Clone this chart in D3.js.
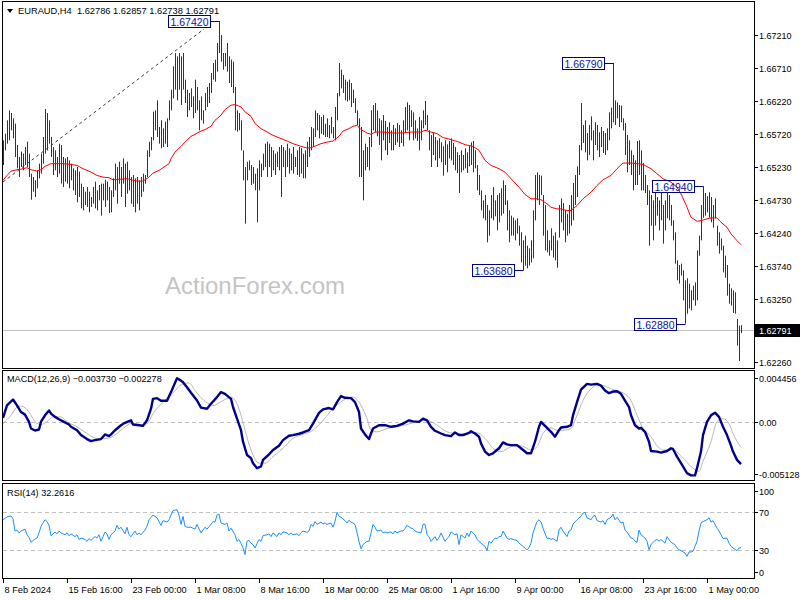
<!DOCTYPE html>
<html><head><meta charset="utf-8">
<script src="https://cdn.jsdelivr.net/npm/d3@7"></script>
<style>body{margin:0;background:#fff}svg{display:block}</style>
</head><body><svg id="c" width="800" height="600"></svg>
<script>
const symbol = "EURAUD,H4";
const lastOHLC = [1.62786, 1.62857, 1.62738, 1.62791];
const highs = [
1.6563,1.6573,1.6593,1.6608,1.6604,1.6596,1.6588,1.6556,1.6538,1.6546,
1.6543,1.6553,1.6561,1.6543,1.6513,1.6508,1.6503,1.6518,1.6528,1.6543,
1.6568,1.6610,1.6604,1.6593,1.6568,1.6553,1.6548,1.6538,1.6558,1.6556,
1.6538,1.6536,1.6538,1.6533,1.6528,1.6521,1.6518,1.6523,1.6516,1.6498,
1.6493,1.6486,1.6493,1.6486,1.6478,1.6493,1.6501,1.6488,1.6496,1.6498,
1.6498,1.6504,1.6501,1.6493,1.6488,1.6506,1.6528,1.6523,1.6531,1.6523,
1.6536,1.6528,1.6531,1.6518,1.6508,1.6511,1.6506,1.6508,1.6503,1.6508,
1.6513,1.6511,1.6548,1.6561,1.6568,1.6606,1.6608,1.6623,1.6583,1.6593,
1.6581,1.6591,1.6596,1.6623,1.6639,1.6674,1.6694,1.6689,1.6694,1.6689,
1.6694,1.6654,1.6639,1.6634,1.6641,1.6629,1.6654,1.6643,1.6623,1.6629,
1.6608,1.6634,1.6643,1.6649,1.6664,1.6679,1.6684,1.6709,1.6742,1.6721,
1.6694,1.6694,1.6709,1.6689,1.6684,1.6681,1.6643,1.6608,1.6604,1.6593,
1.6548,1.6523,1.6531,1.6533,1.6526,1.6523,1.6513,1.6521,1.6533,1.6528,
1.6543,1.6558,1.6561,1.6558,1.6553,1.6548,1.6543,1.6546,1.6553,1.6556,
1.6553,1.6548,1.6558,1.6551,1.6543,1.6553,1.6538,1.6548,1.6553,1.6551,
1.6543,1.6548,1.6561,1.6568,1.6583,1.6581,1.6608,1.6604,1.6601,1.6598,
1.6601,1.6588,1.6596,1.6586,1.6598,1.6583,1.6613,1.6634,1.6679,1.6669,
1.6661,1.6654,1.6651,1.6654,1.6649,1.6639,1.6626,1.6608,1.6596,1.6583,
1.6548,1.6558,1.6553,1.6568,1.6608,1.6616,1.6619,1.6608,1.6596,1.6593,
1.6601,1.6592,1.6583,1.6590,1.6578,1.6586,1.6581,1.6589,1.6586,1.6578,
1.6593,1.6613,1.6620,1.6616,1.6608,1.6605,1.6593,1.6581,1.6598,1.6593,
1.6608,1.6622,1.6601,1.6578,1.6571,1.6575,1.6568,1.6563,1.6566,1.6560,
1.6554,1.6563,1.6557,1.6562,1.6566,1.6559,1.6553,1.6545,1.6541,1.6548,
1.6541,1.6551,1.6545,1.6556,1.6560,1.6562,1.6548,1.6526,1.6511,1.6488,
1.6473,1.6481,1.6466,1.6458,1.6481,1.6493,1.6473,1.6481,1.6484,1.6491,
1.6503,1.6496,1.6473,1.6458,1.6450,1.6447,1.6443,1.6446,1.6435,1.6425,
1.6413,1.6420,1.6405,1.6401,1.6413,1.6458,1.6511,1.6515,1.6511,1.6510,
1.6481,1.6466,1.6428,1.6413,1.6431,1.6420,1.6425,1.6413,1.6466,1.6476,
1.6469,1.6458,1.6453,1.6466,1.6481,1.6499,1.6511,1.6524,1.6556,1.6619,
1.6586,1.6593,1.6574,1.6586,1.6599,1.6578,1.6590,1.6586,1.6575,1.6583,
1.6577,1.6574,1.6581,1.6605,1.6612,1.6679,1.6623,1.6620,1.6616,1.6615,
1.6596,1.6589,1.6571,1.6563,1.6548,1.6541,1.6533,1.6562,1.6563,1.6548,
1.6529,1.6511,1.6496,1.6488,1.6481,1.6473,1.6484,1.6478,1.6473,1.6485,
1.6466,1.6473,1.6485,1.6481,1.6466,1.6443,1.6425,1.6383,1.6376,1.6378,
1.6368,1.6353,1.6356,1.6348,1.6338,1.6345,1.6350,1.6398,1.6420,1.6466,
1.6494,1.6484,1.6479,1.6485,1.6478,1.6466,1.6476,1.6435,1.6425,1.6416,
1.6405,1.6390,1.6376,1.6348,1.6341,1.6338,1.6335,1.6295,1.6285,1.62857];
const lows = [
1.6526,1.6548,1.6558,1.6563,1.6578,1.6566,1.6538,1.6521,1.6508,1.6523,
1.6518,1.6526,1.6523,1.6508,1.6474,1.6486,1.6478,1.6491,1.6506,1.6513,
1.6528,1.6543,1.6548,1.6558,1.6538,1.6511,1.6518,1.6508,1.6513,1.6498,
1.6493,1.6501,1.6498,1.6491,1.6503,1.6488,1.6481,1.6470,1.6478,1.6461,
1.6458,1.6466,1.6463,1.6455,1.6463,1.6468,1.6461,1.6458,1.6473,1.6450,
1.6473,1.6463,1.6473,1.6454,1.6455,1.6478,1.6488,1.6468,1.6498,1.6478,
1.6498,1.6463,1.6483,1.6488,1.6468,1.6463,1.6455,1.6468,1.6458,1.6478,
1.6486,1.6498,1.6508,1.6538,1.6548,1.6563,1.6578,1.6568,1.6558,1.6551,
1.6553,1.6558,1.6553,1.6593,1.6608,1.6626,1.6639,1.6623,1.6639,1.6616,
1.6639,1.6619,1.6598,1.6608,1.6613,1.6596,1.6604,1.6608,1.6578,1.6593,
1.6588,1.6608,1.6613,1.6619,1.6634,1.6654,1.6651,1.6666,1.6694,1.6681,
1.6669,1.6674,1.6666,1.6649,1.6643,1.6634,1.6578,1.6576,1.6578,1.6548,
1.6503,1.6438,1.6503,1.6518,1.6496,1.6498,1.6488,1.6440,1.6488,1.6508,
1.6518,1.6523,1.6508,1.6523,1.6508,1.6518,1.6511,1.6523,1.6518,1.6478,
1.6523,1.6508,1.6523,1.6513,1.6518,1.6513,1.6523,1.6511,1.6508,1.6513,
1.6506,1.6506,1.6523,1.6538,1.6548,1.6553,1.6568,1.6578,1.6566,1.6573,
1.6571,1.6568,1.6568,1.6566,1.6573,1.6566,1.6563,1.6593,1.6629,1.6641,
1.6634,1.6623,1.6621,1.6623,1.6613,1.6619,1.6604,1.6586,1.6508,1.6508,
1.6473,1.6518,1.6523,1.6518,1.6553,1.6578,1.6575,1.6569,1.6556,1.6533,
1.6563,1.6548,1.6541,1.6559,1.6548,1.6548,1.6556,1.6560,1.6553,1.6559,
1.6554,1.6574,1.6578,1.6563,1.6583,1.6563,1.6566,1.6562,1.6548,1.6563,
1.6581,1.6586,1.6578,1.6548,1.6523,1.6541,1.6533,1.6523,1.6536,1.6530,
1.6510,1.6526,1.6515,1.6536,1.6533,1.6526,1.6518,1.6514,1.6484,1.6515,
1.6518,1.6521,1.6514,1.6524,1.6526,1.6515,1.6521,1.6488,1.6481,1.6458,
1.6446,1.6443,1.6410,1.6420,1.6446,1.6443,1.6449,1.6428,1.6440,1.6450,
1.6453,1.6466,1.6428,1.6410,1.6420,1.6420,1.6413,1.6423,1.6405,1.6380,
1.6368,1.6375,1.6371,1.6375,1.6380,1.6386,1.6443,1.6473,1.6466,1.6481,
1.6420,1.6398,1.6395,1.6390,1.6398,1.6387,1.6383,1.6372,1.6417,1.6440,
1.6428,1.6410,1.6420,1.6423,1.6435,1.6443,1.6466,1.6478,1.6511,1.6548,
1.6559,1.6545,1.6533,1.6541,1.6563,1.6533,1.6556,1.6548,1.6538,1.6553,
1.6544,1.6541,1.6548,1.6563,1.6581,1.6590,1.6586,1.6596,1.6583,1.6590,
1.6578,1.6541,1.6515,1.6526,1.6511,1.6488,1.6496,1.6496,1.6511,1.6488,
1.6488,1.6484,1.6466,1.6405,1.6435,1.6413,1.6435,1.6450,1.6428,1.6443,
1.6408,1.6428,1.6446,1.6443,1.6435,1.6413,1.6378,1.6353,1.6348,1.6360,
1.6323,1.6288,1.6303,1.6311,1.6308,1.6323,1.6315,1.6323,1.6390,1.6413,
1.6447,1.6450,1.6455,1.6447,1.6440,1.6432,1.6446,1.6405,1.6393,1.6398,
1.6365,1.6357,1.6330,1.6318,1.6315,1.6304,1.6303,1.6255,1.6232,1.62738];

const tickBars = [0,32,64,96,128,160,192,224,256,288,320,352];
const tickLabels = ["8 Feb 2024","15 Feb 16:00","23 Feb 00:00","1 Mar 08:00","8 Mar 16:00","18 Mar 00:00","25 Mar 08:00","1 Apr 16:00","9 Apr 00:00","16 Apr 08:00","23 Apr 16:00","1 May 00:00"];
const priceTicks = [1.67210,1.66710,1.66220,1.65720,1.65230,1.64730,1.64240,1.63740,1.63250,1.62260];

const maBars = [0,2,4,7,9,12,14,17,19,21,24,27,30,34,37,40,44,47,50,53,55,59,62,64,67,70,73,75,78,80,83,84,86,89,91,94,96,99,101,104,106,109,111,114,116,119,121,124,126,129,132,135,139,142,145,149,152,154,157,159,162,165,168,170,173,175,177,179,182,184,186,190,195,200,204,209,211,214,217,220,224,228,231,235,238,241,244,248,251,254,258,261,264,267,269,272,274,277,279,282,284,287,290,294,297,300,304,307,310,314,317,320,324,327,330,334,337,339,342,344,347,349,352,354,357,359,362,364,367,369];
const maValues = [1.65028,1.65103,1.65168,1.65189,1.65198,1.65219,1.65189,1.65168,1.65189,1.65239,1.6528,1.6528,1.6528,1.65269,1.65254,1.65204,1.65153,1.65103,1.65078,1.65069,1.65039,1.65048,1.65054,1.65039,1.65018,1.65018,1.65078,1.65138,1.65179,1.65219,1.6528,1.65355,1.65454,1.6554,1.65604,1.6569,1.6572,1.6577,1.65791,1.65841,1.65931,1.66006,1.66092,1.66157,1.66167,1.66131,1.66056,1.65991,1.65881,1.65806,1.65755,1.65705,1.65656,1.6562,1.6558,1.6554,1.65514,1.6552,1.65555,1.6558,1.65604,1.6562,1.6569,1.6577,1.65806,1.65841,1.65856,1.65791,1.6574,1.6572,1.65755,1.65755,1.6574,1.6574,1.65755,1.65755,1.6578,1.65755,1.65731,1.65671,1.65641,1.65604,1.65565,1.6554,1.6548,1.65329,1.65254,1.65204,1.65153,1.65054,1.64927,1.64818,1.64753,1.64753,1.64738,1.64678,1.64626,1.64602,1.64602,1.64577,1.64577,1.64652,1.64753,1.64852,1.64953,1.65039,1.65103,1.65204,1.65289,1.65289,1.6528,1.65269,1.65204,1.65129,1.65054,1.65003,1.64927,1.64828,1.64626,1.64476,1.64416,1.64426,1.64452,1.64467,1.64467,1.64401,1.64325,1.64226,1.64125,1.64065];

const macdBars = [0,2,5,7,9,11,13,14,16,18,19,21,23,24,26,28,30,33,34,37,39,42,44,46,49,51,53,54,56,59,61,64,65,68,70,72,74,75,77,79,82,84,87,89,90,92,94,97,99,102,104,107,109,111,114,115,117,119,120,122,124,125,127,129,130,133,135,138,140,143,145,148,150,153,155,158,160,163,165,167,169,171,174,176,178,179,181,183,184,185,188,191,194,197,200,203,205,208,210,212,214,216,219,221,224,226,228,230,233,234,236,238,239,241,243,245,248,250,252,254,257,259,262,264,266,268,269,271,274,276,278,279,282,284,285,287,289,292,294,297,299,301,303,305,307,309,311,313,314,316,318,319,321,323,324,327,329,332,334,335,337,339,342,344,346,347,349,350,352,354,356,358,360,362,364,365,367,369];
const macdValues = [0.00033,0.00143,0.00195,0.00143,0.00085,0.00062,-0.00002,-0.0006,-0.00078,-0.00069,0,0.00056,0.00099,0.00071,0.00042,0.00021,0.00003,-0.00025,-0.00045,-0.00075,-0.00118,-0.00153,-0.00171,-0.00162,-0.00153,-0.00112,-0.00127,-0.00112,-0.00075,-0.00031,-0.0001,0.00012,-0.00025,-0.00031,-0.00037,0.00012,0.00114,0.00201,0.00207,0.00184,0.00184,0.0026,0.00382,0.00361,0.00347,0.00303,0.00254,0.00186,0.00123,0.00114,0.00158,0.00216,0.0026,0.00245,0.00201,0.00129,0.00027,-0.00075,-0.00176,-0.00293,-0.00321,-0.00365,-0.00409,-0.00394,-0.00336,-0.00287,-0.00249,-0.00211,-0.00162,-0.00124,-0.00118,-0.00106,-0.00095,-0.00075,-0.00017,0.00077,0.00108,0.0012,0.00108,0.00172,0.00225,0.0021,0.00207,0.00172,0.00085,-0.0006,-0.00112,-0.00153,-0.00104,-0.0006,-0.00031,-0.00031,-0.00045,-0.00037,-0.00017,0.00012,0.00003,-0.00002,0.00027,0.00012,-0.00045,-0.0008,-0.00104,-0.00118,-0.00127,-0.00095,-0.00118,-0.00118,-0.00098,-0.00084,-0.00104,-0.00132,-0.00191,-0.00263,-0.00293,-0.00278,-0.00234,-0.00182,-0.002,-0.00206,-0.00206,-0.00234,-0.00278,-0.00278,-0.00176,-0.00045,-0.00002,-0.00037,-0.00089,-0.00132,-0.00075,-0.00051,-0.00045,-0.00031,0.00056,0.00172,0.00282,0.00332,0.00326,0.00332,0.00317,0.00274,0.00251,0.00265,0.00268,0.00245,0.00186,0.00129,0.00056,-0.00031,-0.0006,-0.00054,-0.00089,-0.00176,-0.00258,-0.00263,-0.00272,-0.00258,-0.00234,-0.0024,-0.00307,-0.00365,-0.00452,-0.00472,-0.00472,-0.00409,-0.00263,-0.00118,-0.00002,0.00056,0.00079,0.00042,-0.00045,-0.00118,-0.00211,-0.00263,-0.00336,-0.00373];
const signalBars = [0,4,7,9,13,16,19,22,25,29,32,37,42,47,52,56,60,64,69,72,75,80,85,89,93,96,100,105,110,114,118,121,124,128,131,135,140,145,150,155,160,165,170,175,179,182,184,187,192,197,202,207,212,217,222,227,232,237,241,245,249,254,259,264,267,270,274,277,280,284,287,290,294,297,300,305,310,314,317,320,324,327,330,335,340,344,348,350,354,357,360,363,365,369];
const signalValues = [-0.00017,0.00056,0.00129,0.00138,0.00085,0,-0.00025,0,0.00042,0.00042,0,-0.00045,-0.00104,-0.00147,-0.00147,-0.00118,-0.0006,-0.00017,-0.00025,-0.00017,0.00071,0.00172,0.00254,0.00323,0.00341,0.00274,0.00195,0.00143,0.00186,0.00216,0.00114,-0.00075,-0.00249,-0.00365,-0.00365,-0.00307,-0.00234,-0.00147,-0.00112,-0.00075,0.00012,0.00114,0.00186,0.00216,0.00143,0.00027,-0.00075,-0.00089,-0.0006,-0.00045,-0.00025,0,0.00012,-0.00031,-0.00089,-0.00104,-0.00104,-0.00098,-0.00147,-0.00234,-0.00263,-0.0022,-0.00211,-0.00249,-0.0022,-0.00104,-0.00054,-0.00075,-0.00075,-0.0006,0.00056,0.00186,0.00288,0.00323,0.00317,0.00282,0.00254,0.00186,0.00056,-0.0006,-0.00132,-0.00211,-0.00249,-0.00249,-0.00321,-0.00394,-0.00437,-0.0035,-0.00176,0,0.00027,-0.00017,-0.00104,-0.002278];
const macdTicks = [0.004456, 0, -0.005128];
const macdTickLabels = ["0.004456","0.00","-0.005128"];

const rsiBars = [0,2,4,5,6,7,8,9,11,12,13,14,16,17,18,19,21,22,23,24,26,27,28,29,31,32,33,34,36,37,38,39,41,42,43,44,46,47,48,49,51,52,53,54,56,57,58,59,61,62,63,64,66,67,68,69,71,72,73,74,75,77,78,79,80,82,83,84,85,87,88,89,90,91,92,94,95,96,97,99,100,101,102,104,105,106,107,108,109,111,112,113,114,116,117,118,119,120,121,122,123,124,125,126,128,129,130,132,133,134,135,137,138,139,140,142,143,144,145,147,148,149,150,152,153,154,155,156,157,159,160,161,162,164,165,166,167,168,169,171,172,173,174,176,177,178,179,180,182,183,184,185,186,187,189,190,191,192,194,195,196,197,199,200,201,202,204,205,206,207,209,210,211,212,213,214,216,217,218,219,221,222,223,224,226,227,228,229,231,232,233,234,236,237,238,239,241,242,243,244,246,247,248,249,250,252,253,254,255,257,258,259,260,262,263,264,265,267,268,269,270,272,273,274,275,277,278,279,280,282,283,284,285,287,288,289,290,291,292,294,295,296,297,299,300,301,302,304,305,306,307,309,310,311,312,314,315,316,317,318,319,321,322,323,324,326,327,328,329,331,332,333,334,336,337,338,339,341,342,343,344,345,347,348,349,350,352,353,354,355,357,358,359,360,362,363,364,365,367,368,369];
const rsiValues = [62,65,66,63,50,51,48,50,52,46,43,38,41.5,42.5,48,55,62,60,56,45,49,47,50,48,46,48,45,47,44,46,41,42.5,41,39,42,40,44,42.5,46,39,49,47,41,46,50,56,52,54,47,54,46,44,50,46,48,46,51,55,62,64.5,67,64,60,56,61,59.5,62,67,71.6,72.7,67,57,65.6,55,54,54,53,52,57,48,51,54,52,57,60,59.5,67,68,58.5,57,58.5,50,53,46,39,41,37,32,25,39,40,37,35.5,32,41,39,45,46,47,44,48,44,48,46,49,48,46,48,46,47,45,48,50,48.6,50,57,55,60,57,59.5,57.4,58.5,57,58.5,54,60,70,65.6,64.6,61,58.5,61.4,59.5,57,48,39,31,35.5,39,39,48,57,54,50,51,48,49,48,49,47,50,48,50,50,52.5,56,53,52.5,50,49,48,57,57.4,46,44,39,44,40,43,48,39,42,44,49,46,47,35.5,46,42.5,48,44,50,46,41,39,37,33.7,29,39,37,42.5,42,44,44,50,42.5,41,42,41,40,37,35.5,33.7,30,32,37,48,60,62,59.5,53,42,42.5,41,42,39,51,54,50,44,50,51,57.4,62,64,65.6,69,70,64,62,65.6,66.7,61,59.5,61,57,62,64.6,68,62,64.6,58.5,59.5,51,49,42.5,42,39,38,51,46,42.5,39,30,35.5,40,41,39,41,37,44,41,38,35.5,32,30,29,26.6,23,27.7,27.7,28.4,39,50,58.5,60,62,64,59.5,61,53,50,46,42,42.5,37,33.7,32,29,32,32.2616];
const rsiTicks = [100, 70, 30, 0];

const annBars = [108, 305, 260, 341, 350];
const annPrices = [1.67420, 1.66790, 1.63680, 1.62880, 1.64940];
const trendBars = [0, 100.5];
const trendPrices = [1.65005, 1.67300];
const watermark = "ActionForex.com";

const FONT = '"Liberation Sans", Arial, sans-serif';
const svg = d3.select("#c");
const x = d3.scaleLinear().domain([0, 369]).range([3, 741]);
const yP = d3.scaleLinear().domain([1.62215, 1.67705]).range([368, 2]);
const yM = d3.scaleLinear().domain([-0.005128, 0.004456]).range([480, 371]);
const yR = d3.scaleLinear().domain([0, 100]).range([578, 484]);

svg.append("rect").attr("width",800).attr("height",600).attr("fill","#fff");

// watermark
svg.append("text").attr("x",255).attr("y",294).attr("text-anchor","middle")
  .attr("font-family",FONT).attr("font-size",24).attr("fill","#c4c4c4").text(watermark);

// bid line
const bidY = Math.round(yP(lastOHLC[3]))+0.5;
svg.append("line").attr("x1",3).attr("x2",754).attr("y1",bidY).attr("y2",bidY)
  .attr("stroke","#c0c0c0").attr("stroke-width",1);

// trendline
svg.append("line").attr("x1",x(trendBars[0])).attr("y1",yP(trendPrices[0]))
  .attr("x2",x(trendBars[1])).attr("y2",yP(trendPrices[1]))
  .attr("stroke","#3a3a3a").attr("stroke-width",1).attr("stroke-dasharray","3,3");

// bars
svg.append("g").selectAll("line").data(highs).join("line")
  .attr("x1",(d,i)=>Math.round(x(i))+0.5).attr("x2",(d,i)=>Math.round(x(i))+0.5)
  .attr("y1",d=>yP(d)).attr("y2",(d,i)=>yP(lows[i]))
  .attr("stroke","#143c5a").attr("stroke-width",1);

// MA
svg.append("path").datum(maBars.map((b,i)=>[b,maValues[i]]))
  .attr("d",d3.line().x(d=>x(d[0])).y(d=>yP(d[1])))
  .attr("fill","none").attr("stroke","#ff0000").attr("stroke-width",1);

// annotations
const fmt5 = d3.format(".5f");
const ann = svg.append("g");
annBars.forEach((b,k)=>{
  const bx = Math.round(x(b))+0.5, by = yP(annPrices[k]);
  const right = bx - 9;
  ann.append("line").attr("x1",right).attr("x2",bx).attr("y1",Math.round(by)+0.5).attr("y2",Math.round(by)+0.5)
    .attr("stroke","#000080").attr("stroke-width",1);
  ann.append("rect").attr("x",right-42).attr("y",Math.round(by)-5.5).attr("width",42).attr("height",12)
    .attr("fill","none").attr("stroke","#000080").attr("stroke-width",1);
  ann.append("text").attr("x",right-21).attr("y",Math.round(by)+4.5).attr("text-anchor","middle")
    .attr("font-family",FONT).attr("font-size",10.5).attr("fill","#1010a0").text(fmt5(annPrices[k]));
});

// MACD
svg.append("line").attr("x1",3).attr("x2",754).attr("y1",Math.round(yM(0))+0.5).attr("y2",Math.round(yM(0))+0.5)
  .attr("stroke","#c0c0c0").attr("stroke-dasharray","4,3");
svg.append("path").datum(signalBars.map((b,i)=>[b,signalValues[i]]))
  .attr("d",d3.line().x(d=>x(d[0])).y(d=>yM(d[1])).curve(d3.curveMonotoneX))
  .attr("fill","none").attr("stroke","#b8b8b8").attr("stroke-width",1);
svg.append("path").datum(macdBars.map((b,i)=>[b,macdValues[i]]))
  .attr("d",d3.line().x(d=>x(d[0])).y(d=>yM(d[1])))
  .attr("fill","none").attr("stroke","#00008b").attr("stroke-width",2.4).attr("stroke-linejoin","round");

// RSI
[70,30].forEach(v=>{
  svg.append("line").attr("x1",3).attr("x2",754).attr("y1",Math.round(yR(v))+0.5).attr("y2",Math.round(yR(v))+0.5)
    .attr("stroke","#c0c0c0").attr("stroke-dasharray","4,3");
});
svg.append("path").datum(rsiBars.map((b,i)=>[b,rsiValues[i]]))
  .attr("d",d3.line().x(d=>x(d[0])).y(d=>yR(d[1])))
  .attr("fill","none").attr("stroke","#1e90ff").attr("stroke-width",1);

// panel frames
[[1.5,368.5],[370.5,480.5],[483.5,578.5]].forEach(([t,b])=>{
  svg.append("rect").attr("x",2.5).attr("y",t).attr("width",752).attr("height",b-t)
    .attr("fill","none").attr("stroke","#000").attr("stroke-width",1);
});

// right axes
function rightTicks(vals, labels, scale, top, bottom){
  const g = svg.append("g");
  vals.forEach((v,k)=>{
    const yy = Math.round(scale(v));
    const ty = Math.max(top+7, Math.min(bottom-6, yy));
    g.append("line").attr("x1",755).attr("x2",758).attr("y1",ty+0.5).attr("y2",ty+0.5).attr("stroke","#000");
    g.append("text").attr("x",759).attr("y",ty+3.5).attr("font-family",FONT).attr("font-size",9)
      .attr("fill","#000").text(labels[k]);
  });
}
rightTicks(priceTicks, priceTicks.map(fmt5), yP, 2, 368);
rightTicks(macdTicks, macdTickLabels, yM, 371, 480);
rightTicks(rsiTicks, rsiTicks.map(String), yR, 484, 578);

// current price label
const cy = Math.round(yP(lastOHLC[3]));
svg.append("rect").attr("x",755).attr("y",cy-6).attr("width",45).attr("height",13).attr("fill","#000");
svg.append("text").attr("x",759).attr("y",cy+4).attr("font-family",FONT).attr("font-size",9)
  .attr("fill","#fff").text(fmt5(lastOHLC[3]));

// x axis
const xg = svg.append("g");
tickBars.forEach((b,k)=>{
  const tx = Math.round(x(b))+0.5;
  xg.append("line").attr("x1",tx).attr("x2",tx).attr("y1",579).attr("y2",583).attr("stroke","#000");
  xg.append("text").attr("x",tx+1).attr("y",593).attr("font-family",FONT).attr("font-size",9.2)
    .attr("fill","#000").text(tickLabels[k]);
});

// headers
svg.append("path").attr("d","M7,9 L13,9 L10,13 Z").attr("fill","#000");
svg.append("text").attr("x",18).attr("y",14).attr("font-family",FONT).attr("font-size",9.3).attr("fill","#000")
  .attr("xml:space","preserve").text(symbol + "  " + lastOHLC.map(fmt5).join(" "));
svg.append("text").attr("x",7).attr("y",382).attr("font-family",FONT).attr("font-size",9.1).attr("fill","#000")
  .text("MACD(12,26,9) " + d3.format(".6f")(macdValues[macdValues.length-1]) + " " + d3.format(".6f")(signalValues[signalValues.length-1]));
svg.append("text").attr("x",7).attr("y",496).attr("font-family",FONT).attr("font-size",9.2).attr("fill","#000")
  .text("RSI(14) " + d3.format(".4f")(rsiValues[rsiValues.length-1]));
</script></body></html>
